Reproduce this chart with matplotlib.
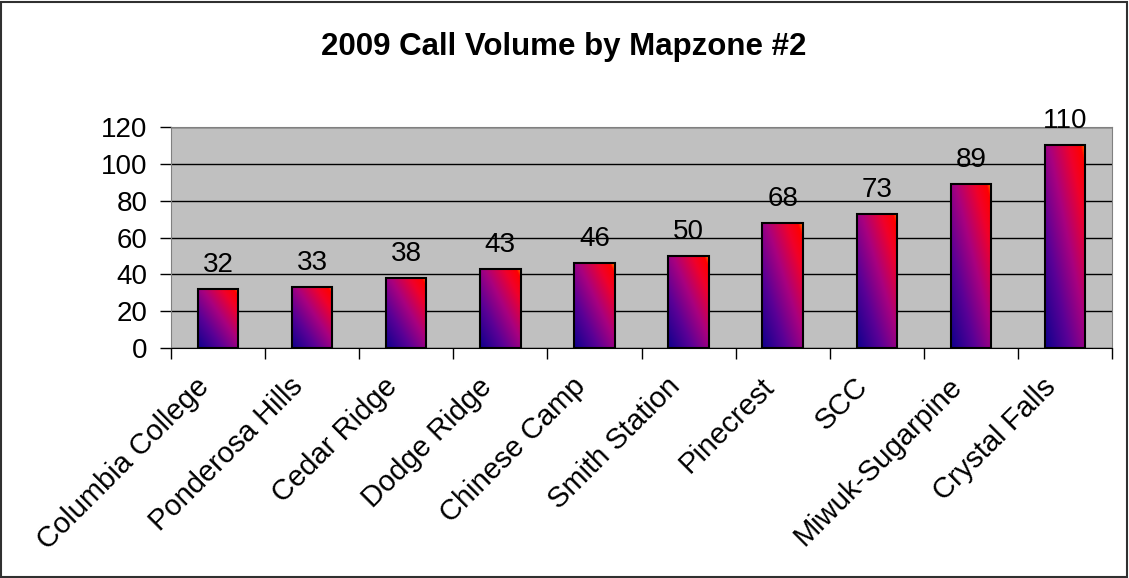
import numpy as np
import matplotlib.pyplot as plt
import matplotlib.transforms as mtransforms
from matplotlib.colors import LinearSegmentedColormap
from matplotlib.patches import Rectangle

plt.rcParams['font.family'] = ['Liberation Sans', 'DejaVu Sans']

zones = ['Columbia College', 'Ponderosa Hills', 'Cedar Ridge', 'Dodge Ridge',
         'Chinese Camp', 'Smith Station', 'Pinecrest', 'SCC',
         'Miwuk-Sugarpine', 'Crystal Falls']
calls = [32, 33, 38, 43, 46, 50, 68, 73, 89, 110]

# navy -> purple -> magenta -> red, small orange tip at the top-right corner
fire = LinearSegmentedColormap.from_list('fire', [
    (0.0, '#10008c'), (0.3, '#5a0096'), (0.55, '#a8007f'),
    (0.8, '#f0002a'), (0.94, '#ff0000'), (1.0, '#ff9000')])

fig = plt.figure(figsize=(11.29, 5.78), dpi=100)
fig.patches.append(Rectangle((0.001, 0.002), 0.997, 0.995, transform=fig.transFigure,
                             fill=False, edgecolor='#303030', linewidth=1.5))
ax = fig.add_axes([171 / 1129, 1 - 348 / 578, 941 / 1129, 221 / 578])
ax.set_facecolor('#c0c0c0')

x = np.arange(len(zones))
width = 0.43
ax.set_xlim(-0.5, len(zones) - 0.5)
ax.set_ylim(0, 120)

# diagonal gradient image for each bar
u, v = np.meshgrid(np.linspace(0, 1, 60), np.linspace(0, 1, 200))
grad = (u + v) / 2
for xi, val in zip(x, calls):
    ax.imshow(grad, cmap=fire, origin='lower', aspect='auto', interpolation='bilinear',
              extent=(xi - width / 2, xi + width / 2, 0, val), zorder=2)
    ax.add_patch(Rectangle((xi - width / 2, 0), width, val, fill=False,
                           edgecolor='black', linewidth=1.5, zorder=3))
    ax.text(xi, val + 6, str(val), ha='center', va='bottom', fontsize=20)

ax.set_yticks(np.arange(0, 121, 20))
ax.yaxis.grid(True, color='black', linewidth=1)
ax.set_axisbelow(True)
ax.tick_params(axis='y', labelsize=20, length=8, width=1, pad=9)

ax.set_xticks(x)
ax.set_xticklabels(zones, rotation=45, ha='right', rotation_mode='anchor', fontsize=21)
ax.tick_params(axis='x', length=0, pad=14)
shift = mtransforms.ScaledTranslation(-23 / 100, -5 / 100, fig.dpi_scale_trans)
for lbl in ax.get_xticklabels():
    lbl.set_transform(lbl.get_transform() + shift)
ax.set_xticks(np.arange(len(zones) + 1) - 0.5, minor=True)
ax.tick_params(axis='x', which='minor', length=8, width=1, direction='out')

for side in ['top', 'right', 'left']:
    ax.spines[side].set_color('#808080')
ax.spines['bottom'].set_color('black')

fig.text(564 / 1129, 1 - 47 / 578, '2009 Call Volume by Mapzone #2',
         ha='center', va='center', fontsize=22.5, fontweight='bold')

fig.savefig('out.png', dpi=100)
